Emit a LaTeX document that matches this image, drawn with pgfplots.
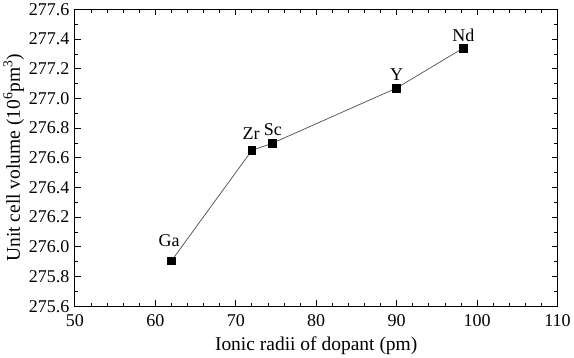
\documentclass[border=0pt]{standalone}
\usepackage{fontspec}
\setmainfont{Liberation Serif}
\usepackage{pgfplots}
\pgfplotsset{compat=1.18}
\begin{document}
\begin{tikzpicture}
\begin{axis}[
  scale only axis,
  width=483pt, height=297pt,
  xmin=50, xmax=110, ymin=275.6, ymax=277.6,
  xtick={50,60,...,110},
  ytick={275.6,275.8,...,277.6},
  minor x tick num=4,
  minor y tick num=1,
  tick align=inside,
  major tick length=6pt,
  minor tick length=3.5pt,
  tick style={black, line width=0.8pt},
  axis line style={line width=1pt},
  /pgf/number format/assume math mode=true,
  /pgf/number format/.cd, fixed, fixed zerofill, precision=1, 1000 sep={},
  /pgfplots/.cd,
  xticklabel style={/pgf/number format/precision=0, font=\fontsize{18}{20}\selectfont, yshift=-5pt},
  yticklabel style={font=\fontsize{18}{20}\selectfont, xshift=-2pt},
  xlabel={Ionic radii of dopant (pm)},
  ylabel={Unit cell volume (10\textsuperscript{6}pm\textsuperscript{3})},
  label style={font=\fontsize{19.5}{21}\selectfont},
  xlabel style={yshift=-3pt},
  ylabel style={yshift=-2pt},
]
\addplot[black!70, line width=0.7pt, mark=square*, mark size=3.9pt,
  mark options={fill=black, draw=black, solid}] coordinates {
  (62,275.905) (72,276.65) (74.5,276.697) (90,277.07) (98.3,277.34)
};
\node[anchor=south, font=\fontsize{18}{20}\selectfont] at (axis cs:61.7,275.905) [yshift=11pt] {Ga};
\node[anchor=south, font=\fontsize{18}{20}\selectfont] at (axis cs:71.9,276.65) [yshift=7pt] {Zr};
\node[anchor=south, font=\fontsize{18}{20}\selectfont] at (axis cs:74.6,276.697) [yshift=4pt] {Sc};
\node[anchor=south, font=\fontsize{18}{20}\selectfont] at (axis cs:90,277.07) [yshift=4pt] {Y};
\node[anchor=south, font=\fontsize{18}{20}\selectfont] at (axis cs:98.3,277.34) [yshift=3pt] {Nd};
\end{axis}
\end{tikzpicture}
\end{document}
